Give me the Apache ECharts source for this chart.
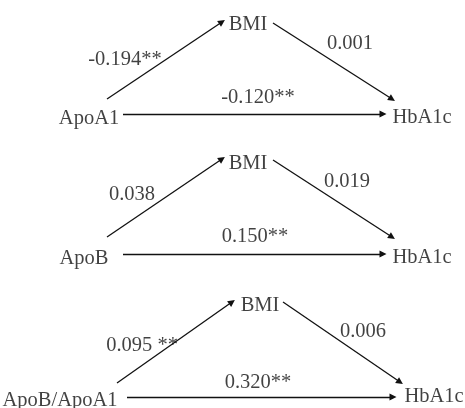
<!DOCTYPE html>
<html>
<head>
<meta charset="UTF-8">
<title>mediation</title>
<script src="https://cdn.jsdelivr.net/npm/echarts@6/dist/echarts.min.js"></script>
<style>
  html, body { margin: 0; padding: 0; background: #fff; }
  #chart { width: 465px; height: 408px; }
</style>
</head>
<body>
<div id="chart"></div>
<script type="text/javascript">
    // 数据
    var predictors = ['ApoA1', 'ApoB', 'ApoB/ApoA1'];
    var mediator = 'BMI';
    var outcome = 'HbA1c';
    var pathA = ['-0.194**', '0.038', '0.095 **'];   // X -> BMI
    var pathB = ['0.001', '0.019', '0.006'];         // BMI -> HbA1c
    var pathC = ['-0.120**', '0.150**', '0.320**'];  // X -> HbA1c

    // 每个面板的布局（像素坐标）
    var layout = [
        {x: [89, 117], m: [248, 23], y: [422, 116],
         up: [[107, 99], [222, 22]], down: [[273, 23], [392, 99]], hor: [[123, 114], [383, 114]],
         la: [125, 58], lb: [350, 42], lc: [258, 96]},
        {x: [84, 257], m: [248, 162], y: [422, 256],
         up: [[107, 237], [222, 159]], down: [[273, 160], [392, 237]], hor: [[123, 254], [383, 254]],
         la: [132, 193], lb: [347, 180], lc: [255, 235]},
        {x: [60, 399], m: [260, 304], y: [434, 395],
         up: [[117, 383], [232, 302]], down: [[283, 302], [400, 382]], hor: [[127, 397], [393, 397]],
         la: [142, 344], lb: [363, 330], lc: [258, 381]}
    ];

    var texts = [];
    var arrows = [];
    for (var i = 0; i < predictors.length; i++) {
        var L = layout[i];
        texts.push([L.x[0], L.x[1], predictors[i]]);
        texts.push([L.m[0], L.m[1], mediator]);
        texts.push([L.y[0], L.y[1], outcome]);
        texts.push([L.la[0], L.la[1], pathA[i]]);
        texts.push([L.lb[0], L.lb[1], pathB[i]]);
        texts.push([L.lc[0], L.lc[1], pathC[i]]);
        arrows.push({coords: L.up});
        arrows.push({coords: L.down});
        arrows.push({coords: L.hor});
    }

    var myChart = echarts.init(document.getElementById('chart'));
    var option = {
        animation: false,
        grid: {left: 0, right: 0, top: 0, bottom: 0},
        xAxis: {type: 'value', min: 0, max: 465, show: false},
        yAxis: {type: 'value', min: 0, max: 408, inverse: true, show: false},
        series: [
            {
                type: 'lines',
                coordinateSystem: 'cartesian2d',
                symbol: ['none', 'triangle'],
                symbolSize: 7,
                lineStyle: {color: '#111', width: 1.3, opacity: 1},
                data: arrows
            },
            {
                type: 'scatter',
                symbolSize: 1,
                itemStyle: {color: 'rgba(0,0,0,0)'},
                label: {
                    show: true,
                    position: 'inside',
                    align: 'center',
                    verticalAlign: 'middle',
                    offset: [0, 1.5],
                    fontFamily: 'Liberation Serif',
                    fontSize: 20.5,
                    color: '#111',
                    formatter: function (p) { return p.value[2]; }
                },
                data: texts
            }
        ]
    };
    myChart.setOption(option);
</script>
</body>
</html>
